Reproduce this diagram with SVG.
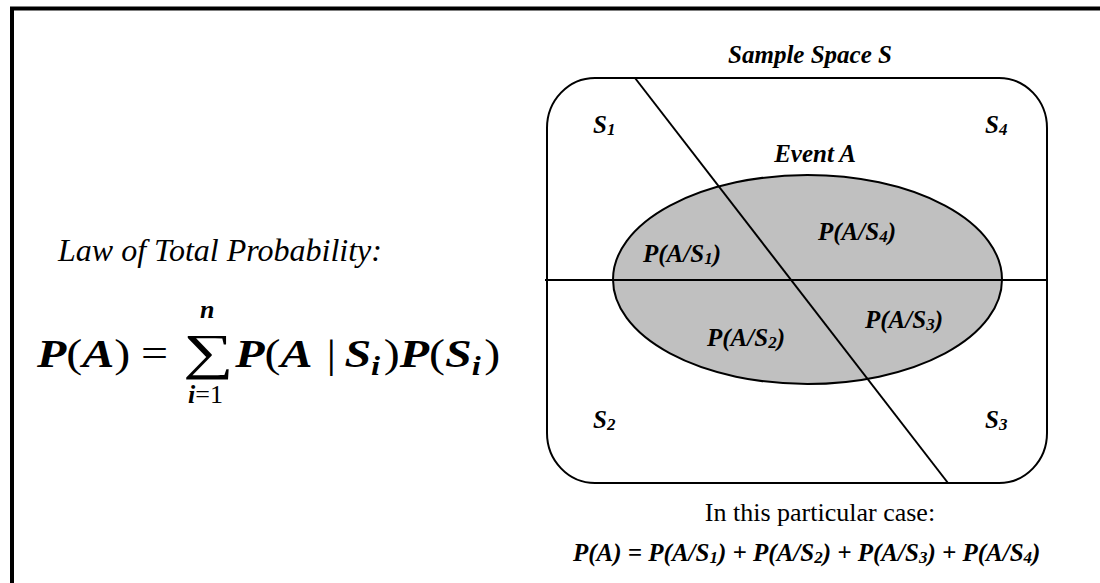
<svg xmlns="http://www.w3.org/2000/svg" width="1100" height="583" viewBox="0 0 1100 583">
<style>
text{font-family:"Liberation Serif","Times New Roman",serif;fill:#000}
.bi{font-weight:bold;font-style:italic}
.it{font-style:italic}
.lbl{font-size:25px;font-weight:bold;font-style:italic}
.sub{font-size:17px}
.eq{font-size:40px}
.line{stroke:#000;stroke-width:2;fill:none}
</style>
<rect width="1100" height="583" fill="#fff"/>
<g id="frame">
<path d="M12 583 V8.5 H1100" fill="none" stroke="#000" stroke-width="4"/>
</g>
<g id="law">
<text x="58" y="261" class="it" font-size="32">Law of Total Probability:</text>
<g transform="scale(1.2,1)">
<text class="eq" x="30.8" y="367"><tspan class="bi">P</tspan>(<tspan class="bi">A</tspan>)</text>
<text class="eq" x="117.5" y="367">=</text>
<text class="eq" x="196" y="367"><tspan class="bi">P</tspan>(<tspan class="bi">A</tspan><tspan x="272">|</tspan><tspan x="287" class="bi">S</tspan><tspan class="bi" font-size="27" dy="8">i</tspan><tspan dy="-8" dx="3">)</tspan><tspan class="bi">P</tspan>(<tspan class="bi">S</tspan><tspan class="bi" font-size="27" dy="8">i</tspan><tspan dy="-8" dx="3">)</tspan></text>
</g>
<text transform="translate(183,368.5) scale(1.42,1)" font-size="50">∑</text>
<text x="200" y="318" class="bi" font-size="26">n</text>
<text x="188" y="403" font-size="26"><tspan class="bi">i</tspan>=1</text>
</g>
<g id="sample-space">
<rect x="547" y="78" width="500" height="405" rx="48" ry="50" fill="#fff" stroke="#000" stroke-width="2"/>
<text x="810" y="63" class="lbl" text-anchor="middle" font-size="26">Sample Space S</text>
</g>
<g id="event-a">
<ellipse cx="807.5" cy="279.5" rx="194.5" ry="104.5" fill="#c0c0c0" stroke="#000" stroke-width="2"/>
<text x="815" y="162" class="lbl" text-anchor="middle">Event A</text>
</g>
<g id="connectors">
<line class="line" x1="545" y1="280" x2="1047" y2="280"/>
<line class="line" x1="635" y1="78" x2="948" y2="483"/>
</g>
<g id="regions">
<text x="593" y="133" class="lbl">S<tspan class="sub" dy="2">1</tspan></text>
<text x="985" y="133" class="lbl">S<tspan class="sub" dy="2">4</tspan></text>
<text x="593" y="428" class="lbl">S<tspan class="sub" dy="2">2</tspan></text>
<text x="985" y="428" class="lbl">S<tspan class="sub" dy="2">3</tspan></text>
<text x="643" y="262" class="lbl">P(A/S<tspan class="sub" dy="2">1</tspan><tspan dy="-2">)</tspan></text>
<text x="818" y="240" class="lbl">P(A/S<tspan class="sub" dy="2">4</tspan><tspan dy="-2">)</tspan></text>
<text x="707" y="346" class="lbl">P(A/S<tspan class="sub" dy="2">2</tspan><tspan dy="-2">)</tspan></text>
<text x="865" y="328" class="lbl">P(A/S<tspan class="sub" dy="2">3</tspan><tspan dy="-2">)</tspan></text>
</g>
<g id="caption">
<text x="820" y="521" font-size="26" text-anchor="middle">In this particular case:</text>
<text x="573" y="561" class="lbl" font-size="25.3">P(A) = P(A/S<tspan class="sub" dy="2">1</tspan><tspan dy="-2">) + P(A/S</tspan><tspan class="sub" dy="2">2</tspan><tspan dy="-2">) + P(A/S</tspan><tspan class="sub" dy="2">3</tspan><tspan dy="-2">) + P(A/S</tspan><tspan class="sub" dy="2">4</tspan><tspan dy="-2">)</tspan></text>
</g>
</svg>
